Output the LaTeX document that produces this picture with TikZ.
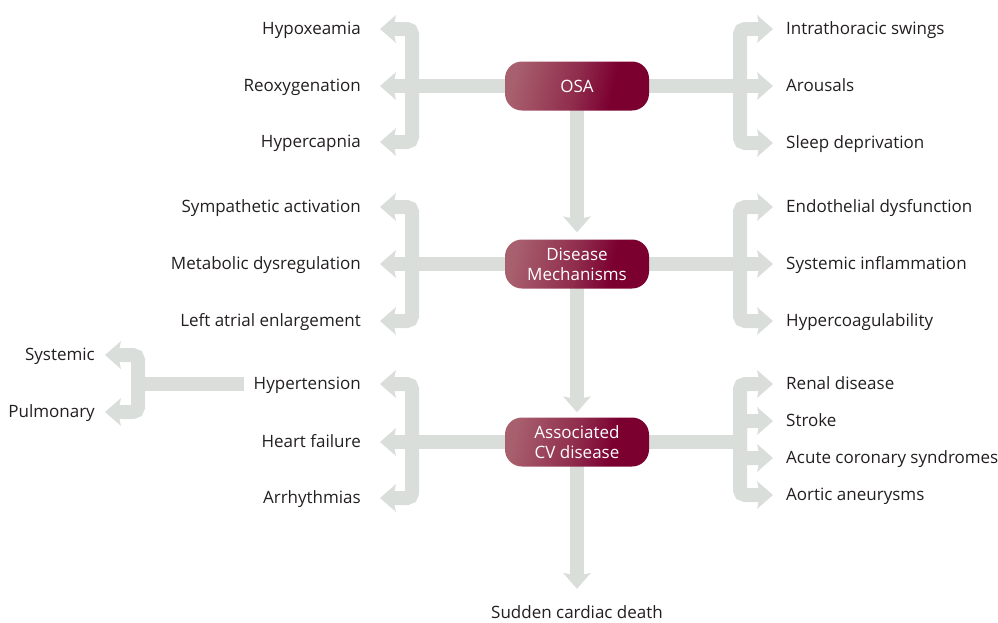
\documentclass[tikz,border=0pt]{standalone}
\usepackage{fontspec}
\setmainfont{Open Sans}
\usetikzlibrary{arrows.meta}
\definecolor{barc}{RGB}{217,222,219}
\definecolor{boxdark}{RGB}{123,0,48}
\definecolor{boxlight}{RGB}{168,96,110}
\colorlet{boxmid}{boxdark!55!boxlight}
\definecolor{txt}{RGB}{35,31,32}
\pgfdeclarehorizontalshading{boxshade}{100bp}{color(0bp)=(boxlight); color(25bp)=(boxlight); color(50bp)=(boxmid); color(64bp)=(boxdark); color(100bp)=(boxdark)}
\pgfdeclarelayer{bg}
\pgfsetlayers{bg,main}
\tikzset{
  bar/.style={draw=barc, line width=14pt, rounded corners=5pt},
  arr/.style={bar, -{Stealth[length=16pt,width=28pt,inset=3pt,line width=0pt]}},
  box/.style={shading=boxshade, shading angle=-12, rounded corners=17pt, minimum width=144pt, minimum height=49pt,
    text=white, align=center, font=\fontsize{17}{20}\selectfont, inner sep=0pt},
  lbl/.style={font=\fontsize{17}{20}\selectfont, inner sep=0pt, text height=13pt, text depth=3pt, text=txt}
}
\begin{document}
\begin{tikzpicture}[x=1pt,y=-1pt]
\useasboundingbox (0,0) rectangle (998,622);
% boxes
\node[box] (osa) at (577,86) {OSA};
\node[box] (mech) at (577,264) {Disease\\Mechanisms};
\node[box] (cvd) at (577,442) {Associated\\CV disease};
% left labels
\node[lbl,anchor=east] (hypox) at (361,29) {Hypoxeamia};
\node[lbl,anchor=east] (reox) at (361,86) {Reoxygenation};
\node[lbl,anchor=east] (hypc) at (361,142) {Hypercapnia};
\node[lbl,anchor=east] (symp) at (361,207) {Sympathetic activation};
\node[lbl,anchor=east] (meta) at (361,264) {Metabolic dysregulation};
\node[lbl,anchor=east] (latr) at (361,321) {Left atrial enlargement};
\node[lbl,anchor=east] (htn) at (361,384) {Hypertension};
\node[lbl,anchor=east] (hf) at (361,442) {Heart failure};
\node[lbl,anchor=east] (arr) at (361,498) {Arrhythmias};
\node[lbl,anchor=east] (sys) at (95,355) {Systemic};
\node[lbl,anchor=east] (pulm) at (95,412) {Pulmonary};
% right labels
\node[lbl,anchor=west] (intra) at (786,29) {Intrathoracic swings};
\node[lbl,anchor=west] (arou) at (786,86) {Arousals};
\node[lbl,anchor=west] (sleep) at (786,143) {Sleep deprivation};
\node[lbl,anchor=west] (endo) at (786,207) {Endothelial dysfunction};
\node[lbl,anchor=west] (infl) at (786,264) {Systemic inflammation};
\node[lbl,anchor=west] (coag) at (786,321) {Hypercoagulability};
\node[lbl,anchor=west] (renal) at (786,384) {Renal disease};
\node[lbl,anchor=west] (stroke) at (786,421) {Stroke};
\node[lbl,anchor=west] (acs) at (786,458) {Acute coronary syndromes};
\node[lbl,anchor=west] (aort) at (786,495) {Aortic aneurysms};
% bottom
\node[lbl] (scd) at (577,613) {Sudden cardiac death};
% bracket points
\coordinate (bl1) at (412,86);
\coordinate (br1) at (740,86);
\coordinate (bl2) at (412,264);
\coordinate (br2) at (740,264);
\coordinate (bl3) at (412,442);
\coordinate (br3) at (740,442);
\coordinate (bh) at (138,384);
\begin{pgfonlayer}{bg}
% trunk
\draw[arr] (osa.center) -- ([yshift=7pt]mech.north);
\draw[arr] (mech.center) -- ([yshift=5pt]cvd.north);
\draw[arr] (cvd.center) -- ([yshift=16pt]scd.north);
% section 1
\draw[arr] (osa.center) -- ([xshift=19pt]reox.east);
\draw[arr] (bl1) |- ([xshift=19pt]hypox.east);
\draw[arr] (bl1) |- ([xshift=19pt]hypc.east);
\draw[arr] (osa.center) -- ([xshift=-13pt]arou.west);
\draw[arr] (br1) |- ([xshift=-13pt]intra.west);
\draw[arr] (br1) |- ([xshift=-13pt]sleep.west);
% section 2
\draw[arr] (mech.center) -- ([xshift=19pt]meta.east);
\draw[arr] (bl2) |- ([xshift=19pt]symp.east);
\draw[arr] (bl2) |- ([xshift=19pt]latr.east);
\draw[arr] (mech.center) -- ([xshift=-13pt]infl.west);
\draw[arr] (br2) |- ([xshift=-13pt]endo.west);
\draw[arr] (br2) |- ([xshift=-13pt]coag.west);
% section 3
\draw[arr] (cvd.center) -- ([xshift=19pt]hf.east);
\draw[arr] (bl3) |- ([xshift=19pt]htn.east);
\draw[arr] (bl3) |- ([xshift=19pt]arr.east);
\draw[bar] (cvd.center) -- (br3);
\draw[arr] (br3) |- ([xshift=-13pt]renal.west);
\draw[arr] (br3) |- ([xshift=-13pt]stroke.west);
\draw[arr] (br3) |- ([xshift=-13pt]acs.west);
\draw[arr] (br3) |- ([xshift=-13pt]aort.west);
% hypertension sub-branch
\draw[bar] ([xshift=-10pt]htn.west) -- (bh);
\draw[arr] (bh) |- ([xshift=10pt]sys.east);
\draw[arr] (bh) |- ([xshift=10pt]pulm.east);
\end{pgfonlayer}
\end{tikzpicture}
\end{document}
